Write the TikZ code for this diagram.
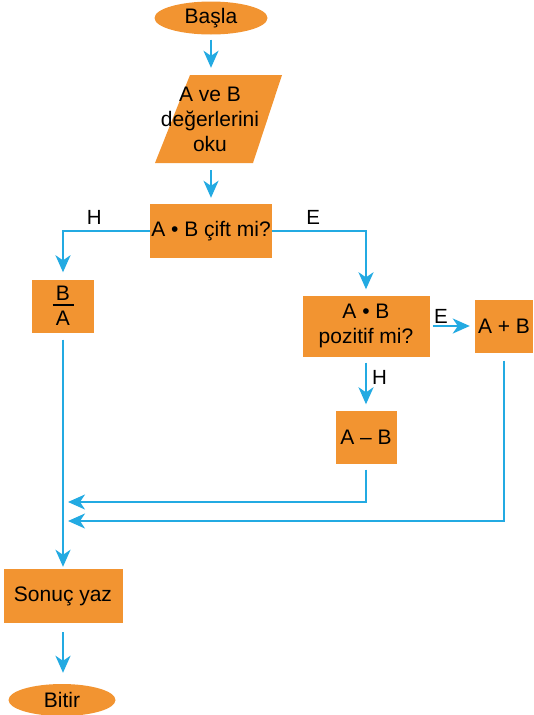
\documentclass[tikz,border=0pt]{standalone}
\usepackage{fontspec}
\setmainfont{Liberation Sans}
\usetikzlibrary{arrows.meta,shapes.geometric}
\definecolor{turuncu}{RGB}{242,148,49}
\definecolor{mavi}{RGB}{35,170,226}
\tikzset{
  kutu/.style={fill=turuncu, inner sep=1pt, align=center, font=\fontsize{21}{25}\selectfont},
  uc/.style={kutu, ellipse},
  etiket/.style={font=\fontsize{20.5}{25}\selectfont, inner sep=1pt},
  baglanti/.style={draw=mavi, line width=2.2pt, -{Stealth[length=17pt,width=15pt,inset=5pt]}}
}
\begin{document}
\begin{tikzpicture}[x=1pt,y=-1pt]
\useasboundingbox (0,0) rectangle (533,715);

\node[uc, minimum width=113, minimum height=33] (basla) at (211,18) {Başla};
\fill[turuncu] (155,163) -- (253,163) -- (282,75) -- (190,75) -- cycle;
\node[etiket, font=\fontsize{21}{25}\selectfont, align=center, minimum height=88] (oku) at (210,119) {A ve B\\değerlerini\\oku};
\node[kutu, minimum width=121, minimum height=54] (cift) at (211,231) {A • B çift mi?};
\node[kutu, minimum width=62, minimum height=53] (ba) at (63,306) {B\\[-20pt]\rule{21pt}{1.4pt}\\[-5pt]A};
\node[kutu, minimum width=127, minimum height=61] (poz) at (366,326) {A • B\\pozitif mi?};
\node[kutu, minimum width=58, minimum height=53] (apb) at (504,326) {A + B};
\node[kutu, minimum width=61, minimum height=53] (amb) at (366,437) {A – B};
\node[kutu, minimum width=119, minimum height=54] (sonuc) at (63,596) {Sonuç yaz};
\node[uc, minimum width=107, minimum height=32] (bitir) at (62,700) {Bitir};

\coordinate (k1) at (63,502);
\coordinate (k2) at (63,521);

\draw[baglanti, shorten <=5, shorten >=7] (basla) -- (oku.north -| basla);
\draw[baglanti, shorten <=7, shorten >=6] (oku.south -| cift) -- (cift);
\draw[baglanti, shorten >=7] (cift.west) -| node[etiket, above=4pt, pos=0.32]{H} (ba.north);
\draw[baglanti, shorten >=6] (cift.east) -| node[etiket, above=4pt, pos=0.22]{E} (poz.north);
\draw[baglanti, shorten <=3, shorten >=5] (poz.east) -- node[etiket, above, pos=0.25]{E} (apb.west);
\draw[baglanti, shorten <=6, shorten >=6] (poz) -- node[etiket, right, xshift=4pt, pos=0.39]{H} (amb);
\draw[baglanti, shorten <=7, shorten >=2] (ba) -- (sonuc);
\draw[baglanti, shorten <=6, shorten >=5] (amb) |- (k1);
\draw[baglanti, shorten <=8, shorten >=5] (apb) |- (k2);
\draw[baglanti, shorten <=9, shorten >=11] (sonuc.south) -- (sonuc.south |- bitir.north);

\end{tikzpicture}
\end{document}
